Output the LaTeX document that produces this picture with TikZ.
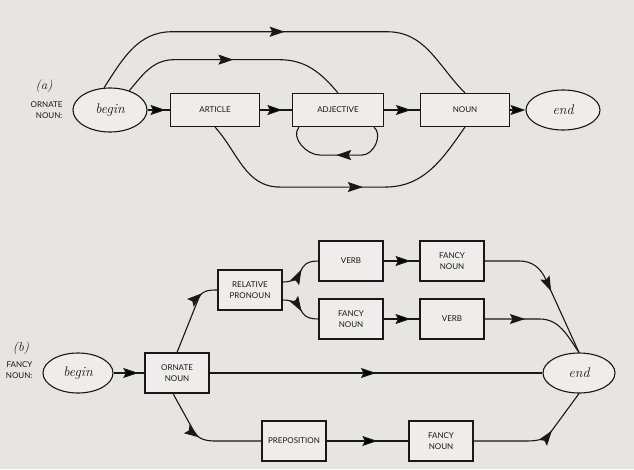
\documentclass[tikz,border=0pt]{standalone}
\usepackage{amsmath,amssymb}
\usepackage{fontspec}
\newfontfamily\capsface{Lato}
\usetikzlibrary{arrows.meta,decorations.markings,shapes.geometric}

\definecolor{paper}{RGB}{231,229,226}
\definecolor{boxpaper}{RGB}{238,237,235}
\definecolor{ink}{RGB}{25,23,23}
\newcommand{\capsfont}{\fontsize{8}{10.5}\selectfont\capsface}
\newcommand{\termfont}{\fontsize{14}{16}\selectfont\itshape}

\tikzset{
	wordbox/.style={draw=ink, fill=boxpaper, line width=1.1pt, inner sep=0pt, align=center, font=\capsfont, text=ink},
	widebox/.style={minimum width=89pt, minimum height=33pt},
	smallbox/.style={minimum width=64pt, minimum height=40pt},
	terminal/.style={ellipse, draw=ink, fill=boxpaper, line width=1.1pt, inner sep=0pt, font=\termfont, text=ink},
	wire/.style={draw=ink, line width=1.1pt},
	headtip/.tip={Stealth[length=15pt,width=10pt,inset=2.5pt]},
	tipat/.style={postaction={decorate}, decoration={markings, mark=at position #1 with {\arrow{headtip}}}}
}

\begin{document}
\begin{tikzpicture}[x=1pt,y=-1pt]
	\fill[paper] (0,0) rectangle (634,469);
	\useasboundingbox (0,0) rectangle (634,469);

	% (a) ornate noun
	\node[font=\fontsize{13}{15}\selectfont\itshape, text=ink] (tagA) at (44,86) {(a)};
	\node[font=\capsfont, align=right, anchor=east, text=ink] (nameA) at (66,110) {ORNATE\\NOUN:};
	\node[terminal, minimum width=74pt, minimum height=44pt] (begA) at (110,110) {begin};
	\node[wordbox, widebox] (art) at (215,110) {ARTICLE};
	\node[wordbox, widebox, minimum width=91pt] (adj) at (338,110) {ADJECTIVE};
	\node[wordbox, widebox] (noun) at (465,110) {NOUN};
	\node[terminal, minimum width=74pt, minimum height=40pt] (endA) at (563,110) {end};

	\path[wire]
		(begA) edge[tipat=.8] (art)
		(art) edge[tipat=.7] (adj)
		(adj) edge[tipat=.75] (noun)
		(noun) edge[-headtip] (endA);
	\draw[wire, tipat=.5] (begA.105) to[out=57,in=180] ++(68,-56) -- ++(215,0) to[out=0,in=135] (noun.north);
	\draw[wire, tipat=.5] (begA.45) to[out=50,in=180] ++(45,-31) -- ++(105,0) to[out=0,in=130] (adj.north);
	\draw[wire, tipat=.58] (art.south) to[out=-48,in=180] ++(65,60) -- ++(105,0) to[out=0,in=-125] (noun.south);
	\draw[wire, tipat=.52] ([xshift=36pt]adj.south) to[out=-40,in=0] ++(-12,28) -- ++(-42,0) to[out=180,in=-130] ([xshift=-39pt]adj.south);

	% (b) fancy noun
	\node[font=\fontsize{13}{15}\selectfont\itshape, text=ink] (tagB) at (21,348) {(b)};
	\node[font=\capsfont, align=right, anchor=east, text=ink] (nameB) at (36,370) {FANCY\\NOUN:};
	\node[terminal, minimum width=70pt, minimum height=40pt] (begB) at (78,373) {begin};
	\node[wordbox, smallbox] (orn) at (177,373) {ORNATE\\NOUN};
	\node[wordbox, smallbox] (rel) at (250,290) {RELATIVE\\PRONOUN};
	\node[wordbox, smallbox] (verbA) at (351,261) {VERB};
	\node[wordbox, smallbox] (fancyA) at (452,261) {FANCY\\NOUN};
	\node[wordbox, smallbox] (fancyB) at (351,319) {FANCY\\NOUN};
	\node[wordbox, smallbox] (verbB) at (452,319) {VERB};
	\node[wordbox, smallbox] (prep) at (294,441) {PREPOSITION};
	\node[wordbox, smallbox] (fancyC) at (441,441) {FANCY\\NOUN};
	\node[terminal, minimum width=72pt, minimum height=40pt] (endB) at (579,373) {end};

	\path[wire]
		(begB) edge[tipat=.8] (orn)
		(orn) edge[tipat=.5] (endB)
		(verbA) edge[tipat=.75] (fancyA)
		(fancyB) edge[tipat=.75] (verbB)
		(prep) edge[tipat=.62] (fancyC);
	\draw[wire, tipat=.8] (orn.north) -- ++(22,-55) to[out=68,in=180] (rel.west);
	\draw[wire, tipat=.45] ([xshift=-4pt]orn.south) -- ++(21,38) to[out=-61,in=180] ([xshift=-45pt]prep.west) -- (prep.west);
	\draw[wire, tipat=.55] ([yshift=8pt]rel.east) to[out=0,in=180,looseness=1.6] (verbA.west);
	\draw[wire, tipat=.55] ([yshift=-10pt]rel.east) to[out=0,in=180,looseness=1.6] (fancyB.west);
	\draw[wire, tipat=.55] (fancyA.east) -- ++(35,0) to[out=0,in=114] ++(26,18) -- (endB.north);
	\draw[wire, tipat=.37] (verbB.east) -- ++(55,0) to[out=0,in=125] (endB.north);
	\draw[wire, tipat=.64] (fancyC.east) -- ++(50,0) to[out=0,in=-122] ++(28,-10) -- (endB.south);
\end{tikzpicture}
\end{document}
